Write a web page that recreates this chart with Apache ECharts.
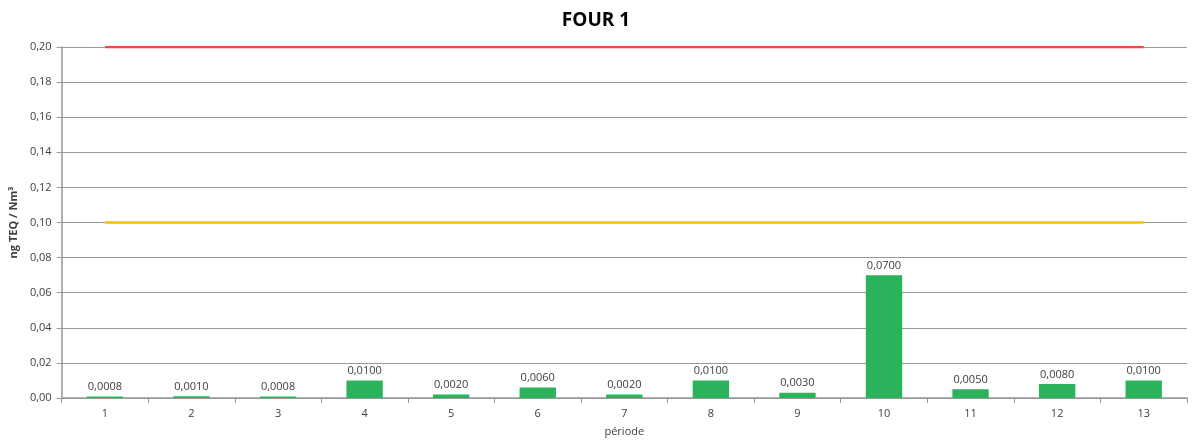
<!DOCTYPE html>
<html><head><meta charset="utf-8">
<script src="https://cdn.jsdelivr.net/npm/echarts@6/dist/echarts.min.js"></script>
<style>html,body{margin:0;padding:0;background:#fff}#c{width:1192px;height:444px}</style>
</head><body><div id="c"></div>
<script>
const categories = ['1','2','3','4','5','6','7','8','9','10','11','12','13'];
const values = [0.0008,0.0010,0.0008,0.0100,0.0020,0.0060,0.0020,0.0100,0.0030,0.0700,0.0050,0.0080,0.0100];
const limitRed = [0.2,0.2,0.2,0.2,0.2,0.2,0.2,0.2,0.2,0.2,0.2,0.2,0.2];
const limitOrange = [0.1,0.1,0.1,0.1,0.1,0.1,0.1,0.1,0.1,0.1,0.1,0.1,0.1];
const fmt = (v, d) => v.toFixed(d).replace('.', ',');
const chart = echarts.init(document.getElementById('c'));
chart.setOption({
  animation: false,
  textStyle: {fontFamily: 'Open Sans, Liberation Sans, sans-serif'},
  title: {text: 'FOUR 1', left: 'center', top: 6, textStyle: {fontSize: 19, fontWeight: 'bold', color: '#000', fontFamily: 'Open Sans, sans-serif'}},
  grid: {left: 60, right: 5, top: 47, bottom: 46, containLabel: false},
  xAxis: {
    type: 'category', data: categories, name: 'période', nameLocation: 'middle', nameGap: 28,
    nameTextStyle: {fontSize: 11, color: '#404040'},
    axisLine: {lineStyle: {color: '#999', width: 1.5}},
    axisTick: {show: true, length: 5, lineStyle: {color: '#999'}},
    axisLabel: {fontSize: 11, color: '#404040', margin: 10}
  },
  yAxis: {
    type: 'value', min: 0, max: 0.2, interval: 0.02,
    name: 'ng TEQ / Nm³', nameLocation: 'middle', nameGap: 40, nameRotate: 90,
    nameTextStyle: {fontSize: 11, fontWeight: 'bold', color: '#404040'},
    axisLine: {show: true, lineStyle: {color: '#999', width: 1.5}},
    axisTick: {show: true, length: 5, lineStyle: {color: '#999'}},
    axisLabel: {fontSize: 11, color: '#404040', formatter: v => fmt(v, 2), margin: 10},
    splitLine: {lineStyle: {color: '#999', width: 1.2}}
  },
  series: [
    {type: 'bar', data: values, barWidth: '42%', itemStyle: {color: '#2bb35c'},
     label: {show: true, position: 'top', distance: 4, fontSize: 11, color: '#404040', formatter: p => fmt(p.value, 4)}},
    {type: 'line', data: limitRed, symbol: 'none', lineStyle: {color: '#f04848', width: 2.5}, z: 3},
    {type: 'line', data: limitOrange, symbol: 'none', lineStyle: {color: '#ffc000', width: 2.5}, z: 3}
  ]
});
</script></body></html>
